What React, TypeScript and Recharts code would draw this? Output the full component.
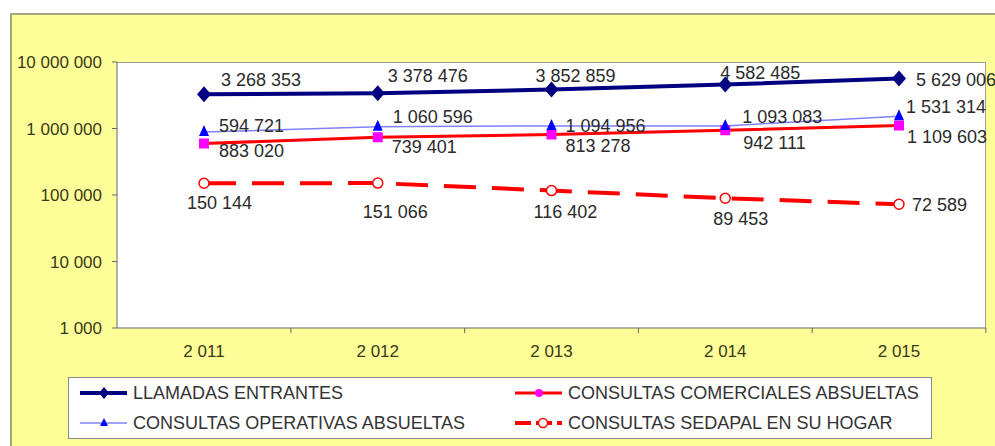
import React from 'react';
import { LineChart, Line, XAxis, YAxis, Legend, LabelList } from 'recharts';

const years = [2011, 2012, 2013, 2014, 2015];
const llamadasEntrantes = [3268353, 3378476, 3852859, 4582485, 5629006];
const consultasComerciales = [594721, 739401, 813278, 942111, 1109603];
const consultasOperativas = [883020, 1060596, 1094956, 1093083, 1531314];
const consultasSedapal = [150144, 151066, 116402, 89453, 72589];

// texts as printed on the source chart (the 2011 labels of these two are swapped there)
const operativasLabels = ['594 721', '1 060 596', '1 094 956', '1 093 083', '1 531 314'];
const comercialesLabels = ['883 020', '739 401', '813 278', '942 111', '1 109 603'];

const yTicks = [1000, 10000, 100000, 1000000, 10000000];

const data = years.map((year, i) => ({
  year,
  llamadas: llamadasEntrantes[i],
  comerciales: consultasComerciales[i],
  operativas: consultasOperativas[i],
  sedapal: consultasSedapal[i],
}));

const FONT = '"Liberation Sans", Arial, sans-serif';

const fmt = (n: number) => String(n).replace(/\B(?=(\d{3})+(?!\d))/g, ' ');

// where each data label sits relative to its point: [dx to text start, dy to text middle]
const labelOffsets: Record<string, number[][]> = {
  llamadas: [[17, -14], [10, -17], [-16, -14], [-5, -12], [17, 1]],
  operativas: [[15, -6], [15, -10], [14, 0], [17, -9], [7, -9]],
  comerciales: [[15, 7], [14, 10], [14, 12], [18, 13], [8, 12]],
  sedapal: [[-17, 20], [-15, 29], [-18, 21], [-12, 21], [13, 1]],
};

const makeLabel = (key: string, texts?: string[]) => (props: any) => {
  const { x, y, index, value } = props;
  const [dx, dy] = labelOffsets[key][index];
  return (
    <text
      x={x + dx}
      y={y + dy}
      fontSize={18}
      fontFamily={FONT}
      fill="#2b2b2b"
      dominantBaseline="central"
      textAnchor="start"
    >
      {texts ? texts[index] : fmt(value)}
    </text>
  );
};

const Diamond = (props: any) => {
  const { cx, cy, index } = props;
  return (
    <polygon
      key={`d-${index}`}
      points={`${cx},${cy - 8} ${cx + 7},${cy} ${cx},${cy + 8} ${cx - 7},${cy}`}
      fill="#000080"
    />
  );
};

const Triangle = (props: any) => {
  const { cx, cy, index } = props;
  return (
    <polygon
      key={`t-${index}`}
      points={`${cx},${cy - 7} ${cx + 5},${cy + 4} ${cx - 5},${cy + 4}`}
      fill="#0000ff"
    />
  );
};

const Square = (props: any) => {
  const { cx, cy, index } = props;
  return <rect key={`s-${index}`} x={cx - 5} y={cy - 5} width={10} height={10} fill="#ff00ff" />;
};

const OpenCircle = (props: any) => {
  const { cx, cy, index } = props;
  return <circle key={`c-${index}`} cx={cx} cy={cy} r={5} fill="#fff" stroke="#ff0000" strokeWidth={1.5} />;
};

const XTick = (props: any) => {
  const { x, y, payload, width, visibleTicksCount } = props;
  const band = (width || 869) / (visibleTicksCount || 5);
  return (
    <g>
      <line x1={x + band / 2} y1={y} x2={x + band / 2} y2={y + 5} stroke="#666" />
      <text x={x} y={y + 23} textAnchor="middle" dominantBaseline="central" fontSize={17} fontFamily={FONT} fill="#3a3a12">
        {fmt(payload.value)}
      </text>
    </g>
  );
};

const legendItems = [
  { name: 'LLAMADAS ENTRANTES', kind: 'llamadas' },
  { name: 'CONSULTAS COMERCIALES ABSUELTAS', kind: 'comerciales' },
  { name: 'CONSULTAS OPERATIVAS ABSUELTAS', kind: 'operativas' },
  { name: 'CONSULTAS SEDAPAL EN SU HOGAR', kind: 'sedapal' },
];

const LegendIcon = ({ kind }: { kind: string }) => {
  const cx = 24;
  const cy = 7;
  return (
    <svg width={48} height={14} style={{ display: 'block' }}>
      {kind === 'llamadas' && (
        <>
          <line x1={0} y1={cy} x2={47} y2={cy} stroke="#000080" strokeWidth={4} />
          <polygon points={`${cx},${cy - 6} ${cx + 5},${cy} ${cx},${cy + 6} ${cx - 5},${cy}`} fill="#000080" />
        </>
      )}
      {kind === 'operativas' && (
        <>
          <line x1={0} y1={cy} x2={47} y2={cy} stroke="#8080ff" strokeWidth={1.5} />
          <polygon points={`${cx},${cy - 5} ${cx + 4},${cy + 3} ${cx - 4},${cy + 3}`} fill="#0000ff" />
        </>
      )}
      {kind === 'comerciales' && (
        <>
          <line x1={0} y1={cy} x2={47} y2={cy} stroke="#ff0000" strokeWidth={3} />
          <circle cx={cx} cy={cy} r={4} fill="#ff00ff" />
        </>
      )}
      {kind === 'sedapal' && (
        <>
          <line x1={0} y1={cy} x2={47} y2={cy} stroke="#ff0000" strokeWidth={4} strokeDasharray="16 5" />
          <circle cx={cx + 4} cy={cy} r={4.5} fill="#fff" stroke="#ff0000" strokeWidth={1.5} />
        </>
      )}
    </svg>
  );
};

const LegendBox = () => (
  <div
    style={{
      width: 864,
      height: 62,
      boxSizing: 'border-box',
      background: '#fff',
      border: '1.5px solid #8c8c8c',
      display: 'grid',
      gridTemplateColumns: '435px 1fr',
      gridAutoRows: '30px',
      paddingLeft: 11,
      fontFamily: FONT,
      fontSize: 18,
      color: '#333',
    }}
  >
    {legendItems.map((item) => (
      <div key={item.kind} style={{ display: 'flex', alignItems: 'center', gap: 5 }}>
        <LegendIcon kind={item.kind} />
        <span>{item.name}</span>
      </div>
    ))}
  </div>
);

export default function App() {
  return (
    <div style={{ position: 'absolute', left: 0, top: 0, width: 995, height: 446, overflow: 'hidden', background: '#fff' }}>
      <div
        style={{
          position: 'absolute',
          left: 10,
          top: 13,
          width: 1000,
          height: 450,
          background: '#ffff99',
          borderTop: '2px solid #a5a57c',
          borderLeft: '2px solid #a5a57c',
        }}
      />
      <div
        style={{
          position: 'absolute',
          left: 117,
          top: 62,
          width: 869,
          height: 266,
          background: '#fff',
          borderTop: '1px solid #a0a090',
          borderRight: '1px solid #a0a090',
          boxSizing: 'border-box',
        }}
      />
      <div style={{ position: 'absolute', left: 0, top: 0 }}>
        <LineChart width={995} height={446} data={data} margin={{ top: 62, right: 9, left: 0, bottom: 88 }}>
          <XAxis
            dataKey="year"
            type="category"
            height={30}
            padding={{ left: 87, right: 87 }}
            axisLine={{ stroke: '#666' }}
            tickLine={false}
            tickSize={0}
            tickMargin={0}
            tick={<XTick />}
            interval={0}
          />
          <YAxis
            width={117}
            type="number"
            scale="log"
            domain={[1000, 10000000]}
            ticks={yTicks}
            allowDataOverflow
            interval={0}
            axisLine={{ stroke: '#666' }}
            tickLine={{ stroke: '#666' }}
            tickSize={5}
            tickMargin={10}
            tickFormatter={fmt}
            tick={{ fontSize: 17, fontFamily: FONT, fill: '#3a3a12' }}
          />
          <Legend
            layout="horizontal"
            verticalAlign="middle"
            align="center"
            wrapperStyle={{ left: 68, top: 377, width: 864, height: 62 }}
            content={() => <LegendBox />}
          />
          <Line
            dataKey="llamadas"
            stroke="#000080"
            strokeWidth={4}
            dot={Diamond}
            activeDot={false}
            isAnimationActive={false}
          >
            <LabelList dataKey="llamadas" content={makeLabel('llamadas')} />
          </Line>
          <Line
            dataKey="comerciales"
            stroke="#ff0000"
            strokeWidth={3}
            dot={Square}
            activeDot={false}
            isAnimationActive={false}
          >
            <LabelList dataKey="comerciales" content={makeLabel('comerciales', comercialesLabels)} />
          </Line>
          <Line
            dataKey="operativas"
            stroke="#8080ff"
            strokeWidth={1.5}
            dot={Triangle}
            activeDot={false}
            isAnimationActive={false}
          >
            <LabelList dataKey="operativas" content={makeLabel('operativas', operativasLabels)} />
          </Line>
          <Line
            dataKey="sedapal"
            stroke="#ff0000"
            strokeWidth={4}
            strokeDasharray="32 16"
            dot={OpenCircle}
            activeDot={false}
            isAnimationActive={false}
          >
            <LabelList dataKey="sedapal" content={makeLabel('sedapal')} />
          </Line>
        </LineChart>
      </div>
    </div>
  );
}
